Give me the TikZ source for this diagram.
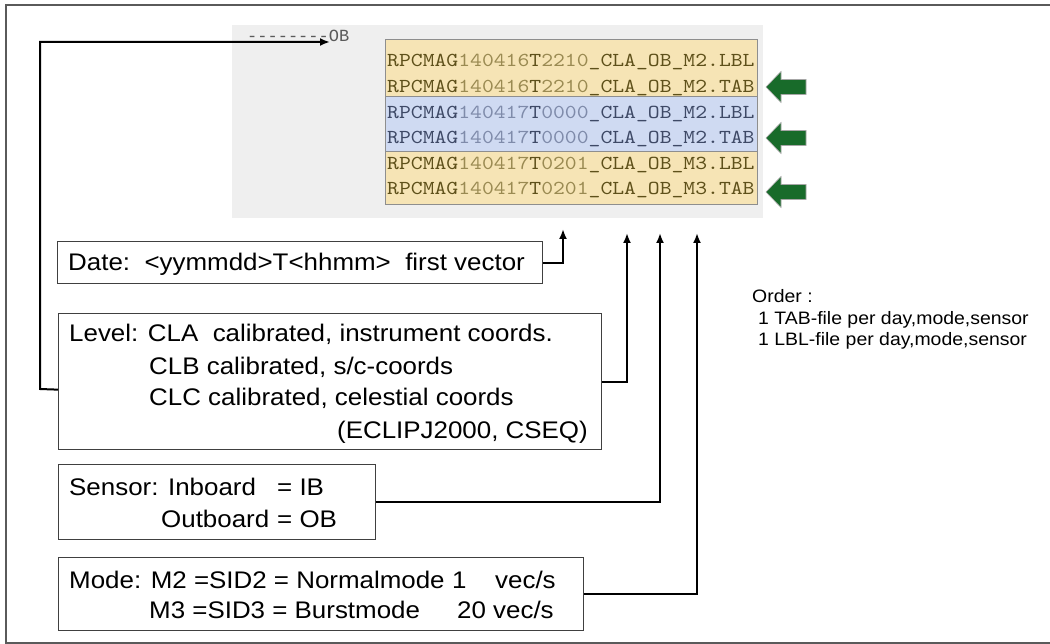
\documentclass[tikz,border=0pt]{standalone}
\usepackage{fontspec}
\setmainfont{Liberation Sans}
\newfontfamily\labfont[FakeStretch=1.08]{Liberation Sans}
\newfontfamily\fmono{lmmono10-regular.otf}[FakeStretch=1.14]
\newfontfamily\obmono{Liberation Mono}
\usetikzlibrary{arrows.meta}
\definecolor{panel}{HTML}{EFEFEF}
\definecolor{rowY}{HTML}{F6E4B5}
\definecolor{rowB}{HTML}{CFDAF2}
\definecolor{tabline}{HTML}{8E8E8E}
\definecolor{yd}{HTML}{5E501A}
\definecolor{yl}{HTML}{9A8A52}
\definecolor{bd}{HTML}{3E4966}
\definecolor{bl}{HTML}{7F8BAA}
\definecolor{obgray}{HTML}{5A5A5A}
\definecolor{garrow}{HTML}{186B2A}
\definecolor{boxline}{HTML}{404040}
\definecolor{framecol}{HTML}{5A5A5A}
\newcommand\fnm[5]{\textcolor{#1}{RPCMAG}\textcolor{#2}{#3}\textcolor{#1}{T}\textcolor{#2}{#4}\textcolor{#1}{#5}}
\tikzset{
  box/.style={draw=boxline, line width=1.3pt, anchor=north west, inner sep=0pt},
  conn/.style={draw=black, line width=2pt},
  tip/.style={-{Latex[length=10pt,width=8pt]}},
  lab/.style={anchor=base west, inner sep=0pt, font=\labfont\fontsize{24}{30}\selectfont},
  labr/.style={anchor=base east, inner sep=0pt, font=\labfont\fontsize{24}{30}\selectfont},
  ord/.style={anchor=base west, inner sep=0pt, font=\labfont\fontsize{18}{22}\selectfont},
  ftxt/.style={anchor=base west, inner sep=0pt, font=\fmono\fontsize{19.8}{24}\selectfont},
  grp/.style={draw=tabline, line width=1pt},
  garr/.style={fill=garrow, draw=gray!70, line width=0.6pt},
  frame/.style={draw=framecol, line width=1.5pt}
}
\begin{document}
\begin{tikzpicture}[x=1pt,y=-1pt]
\useasboundingbox (0,0) rectangle (1050,644);
% outer frame (right side runs off the picture)
\draw[frame] (1050,5) -- (6,5) -- (6,643) -- (1050,643);
% grey panel
\fill[panel] (232,25) rectangle (763,218);
% file table
\filldraw[grp, fill=rowY] (385,40) rectangle (757,97);
\filldraw[grp, fill=rowB] (385,97) rectangle (757,152);
\filldraw[grp, fill=rowY] (385,152) rectangle (757,205);
\node[ftxt] (f1) at (387,67) {\fnm{yd}{yl}{140416}{2210}{\_CLA\_OB\_M2.LBL}};
\node[ftxt] (f2) at (387,93) {\fnm{yd}{yl}{140416}{2210}{\_CLA\_OB\_M2.TAB}};
\node[ftxt] (f3) at (387,119) {\fnm{bd}{bl}{140417}{0000}{\_CLA\_OB\_M2.LBL}};
\node[ftxt] (f4) at (387,144) {\fnm{bd}{bl}{140417}{0000}{\_CLA\_OB\_M2.TAB}};
\node[ftxt] (f5) at (387,170) {\fnm{yd}{yl}{140417}{0201}{\_CLA\_OB\_M3.LBL}};
\node[ftxt] (f6) at (387,195) {\fnm{yd}{yl}{140417}{0201}{\_CLA\_OB\_M3.TAB}};
% green arrows
\foreach \yy in {87,138,192}{
  \filldraw[garr] (766,\yy) -- (781,\yy-15.5) -- (781,\yy-7.5) -- (806,\yy-7.5)
     -- (806,\yy+7.5) -- (781,\yy+7.5) -- (781,\yy+15.5) -- cycle;
}
% ----OB label
\node[anchor=base west, inner sep=0pt, font=\obmono\fontsize{17}{20}\selectfont, text=obgray] (obtext) at (247,42) {{-}{-}{-}{-}{-}{-}{-}{-}OB};
% boxes
\node[box, minimum width=485pt, minimum height=42pt] (date) at (57,241) {};
\node[box, minimum width=543pt, minimum height=136pt] (level) at (58,313) {};
\node[box, minimum width=317pt, minimum height=75pt] (sensor) at (58,464) {};
\node[box, minimum width=525pt, minimum height=73pt] (mode) at (58,557) {};
% box texts
\node[lab] (dateT) at (68,271) {Date:\ \ <yymmdd>T<hhmm>\ \ first vector};
\node[lab] (lev1) at (69,342) {Level: CLA\ \ calibrated, instrument coords.};
\node[lab] (lev2) at (149,374) {CLB calibrated, s/c-coords};
\node[lab] (lev3) at (149,406) {CLC calibrated, celestial coords};
\node[labr] (lev4) at (588,438) {(ECLIPJ2000, CSEQ)};
\node[lab] (sen1) at (69,495) {Sensor: Inboard};
\node[lab] (sen1b) at (277,495) {= IB};
\node[lab] (sen2) at (161,527) {Outboard};
\node[lab] (sen2b) at (277,527) {= OB};
\node[lab] (mod1) at (69,588) {Mode: M2 =SID2 = Normalmode};
\node[lab] (mod1b) at (452,588) {1};
\node[lab] (mod1c) at (495,588) {vec/s};
\node[lab] (mod2) at (149,618) {M3 =SID3 = Burstmode};
\node[lab] (mod2b) at (457,618) {20 vec/s};
% order note
\node[ord] (ord1) at (752,303) {Order :};
\node[ord] (ord2) at (758,325) {1 TAB-file per day,mode,sensor};
\node[ord] (ord3) at (758,346) {1 LBL-file per day,mode,sensor};
% connectors
\coordinate (tipD) at (563,229);
\coordinate (tipL) at (627,233);
\coordinate (tipS) at (660,233);
\coordinate (tipM) at (697,233);
\coordinate (tipOB) at (330,42);
\coordinate (bend) at (40,389);
\draw[conn, tip] (date.east) -| (tipD);
\draw[conn, tip] (level.east) -| (tipL);
\draw[conn, tip] (sensor.east) -| (tipS);
\draw[conn, tip] (mode.east) -| (tipM);
\draw[conn, tip] ([yshift=-8pt]level.west) -- (bend) |- (tipOB);
\end{tikzpicture}
\end{document}
